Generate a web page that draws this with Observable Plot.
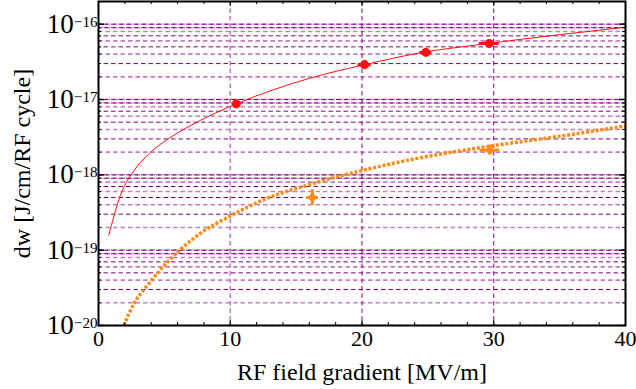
<!DOCTYPE html>
<html><head><meta charset="utf-8">
<script src="https://cdn.jsdelivr.net/npm/d3@7"></script>
<script src="https://cdn.jsdelivr.net/npm/@observablehq/plot@0.6"></script>
<style>
body{margin:0;background:#fff;}
svg{display:block;}
svg, svg text, svg tspan{font-family:"Liberation Serif","Times New Roman",serif !important;}
[aria-label="x-axis label"], [aria-label="y-axis label"]{font-size:24px;}
</style>
</head><body><div id="chart"></div>
<script>
// ---- data ----
// red series (measured points + fitted curve)
const redX     = [10.46, 20.2, 24.85, 29.66];
const redY     = [8.75e-18, 2.9e-17, 4.22e-17, 5.55e-17];
const redXErr  = [0.3, 0.5, 0.45, 0.75];
const redYLo   = [7.7e-18, 2.53e-17, 3.72e-17, 5.1e-17];
const redYHi   = [9.9e-18, 3.32e-17, 4.79e-17, 6.05e-17];
const redCurveX = [0.78, 1.67, 2.68, 3.70, 5.22, 6.36, 7.75, 10.46, 16.1, 20.2, 24.3, 29.6, 40];
const redCurveY = [1.58e-19, 5.4e-19, 1.13e-18, 1.81e-18, 2.95e-18, 3.92e-18, 5.3e-18, 8.75e-18, 1.93e-17, 2.9e-17, 4.13e-17, 5.55e-17, 9.1e-17];
// orange series
const orangeX    = [16.23, 29.7];
const orangeY    = [5.0e-19, 2.13e-18];
const orangeXErr = [0.43, 0.75];
const orangeYLo  = [3.92e-19, 1.83e-18];
const orangeYHi  = [6.38e-19, 2.48e-18];
const orangeCurveX = [1.92, 2.68, 3.70, 4.96, 7.75, 10.03, 12.81, 16.1, 19.9, 24.46, 29.78, 35.1, 40];
const orangeCurveY = [1e-20, 1.94e-20, 3.39e-20, 6.17e-20, 1.68e-19, 2.86e-19, 4.9e-19, 7.5e-19, 1.13e-18, 1.69e-18, 2.41e-18, 3.27e-18, 4.45e-18];
// axes
const xDomain = [0, 40];
const yDomain = [1e-20, 2e-16];
const xTickLabels = [0, 10, 20, 30, 40];
const xMinorTicks = [0,2,4,6,8,10,12,14,16,18,20,22,24,26,28,30,32,34,36,38,40];
const yDecades = [1e-20, 1e-19, 1e-18, 1e-17, 1e-16];
const yMultipliers = [1,2,3,4,5,6,7,8,9];
const yGridDecades = [1e-20, 1e-19, 1e-18, 1e-17];
const lightMultipliers = [1,2,4,6,8,9];
const darkMultipliers = [1,3,5,7,9];
const xGridLight = [10];
const xGridDark = [20, 30];
const xLabel = "RF field gradient [MV/m]";
const yLabel = "dw [J/cm/RF cycle]";

// ---- derived tables ----
const redPts = redX.map((x,i)=>({x, y:redY[i], x1:x-redXErr[i], x2:x+redXErr[i], y1:redYLo[i], y2:redYHi[i]}));
const orangePts = orangeX.map((x,i)=>({x, y:orangeY[i], x1:x-orangeXErr[i], x2:x+orangeXErr[i], y1:orangeYLo[i], y2:orangeYHi[i]}));
const redCurve = redCurveX.map((x,i)=>({x, y:redCurveY[i]}));
const orangeCurve = orangeCurveX.map((x,i)=>({x, y:orangeCurveY[i]}));
const gridLight = yGridDecades.flatMap(d=>lightMultipliers.map(m=>m*d)).concat([1e-16]);
const gridDark = yGridDecades.flatMap(d=>darkMultipliers.map(m=>m*d)).concat([1e-16]);
const yMinor = yGridDecades.flatMap(d=>yMultipliers.map(m=>m*d)).concat([1e-16, 2e-16]);

const W = 636, H = 389, mL = 98, mR = 11, mT = 1, mB = 64;
const pW = W - mL - mR, pH = H - mT - mB;
const font = "Liberation Serif, Times New Roman, serif";
const red = "#ff1010", orange = "#ff8a14";
const light = "#c47fc4", dark = "#80007f";

const chart = Plot.plot({
  width: W, height: H,
  marginLeft: mL, marginRight: mR, marginTop: mT, marginBottom: mB,
  style: {fontFamily: font, color: "#000", background: "#fff"},
  x: {domain: xDomain},
  y: {type: "log", domain: yDomain},
  marks: [
    Plot.ruleY(gridLight, {y: d=>d, stroke: light, strokeWidth: 1.6, strokeDasharray: "4.5,3"}),
    Plot.ruleY(gridDark, {y: d=>d, stroke: dark, strokeWidth: 1, strokeDasharray: "4.5,3", strokeDashoffset: 2}),
    Plot.ruleX(xGridLight, {x: d=>d, stroke: light, strokeWidth: 1.6, strokeDasharray: "4.5,3"}),
    Plot.ruleX(xGridDark, {x: d=>d, stroke: dark, strokeWidth: 1, strokeDasharray: "4.5,3"}),
    Plot.line(redCurve, {x: "x", y: "y", stroke: red, strokeWidth: 1, curve: "monotone-x"}),
    Plot.line(orangeCurve, {x: "x", y: "y", stroke: orange, strokeWidth: 3.5, strokeDasharray: "3,1.8", strokeLinecap: "butt", strokeLinejoin: "miter", curve: "monotone-x"}),
    Plot.ruleY(redPts, {y: "y", x1: "x1", x2: "x2", stroke: red, strokeWidth: 3}),
    Plot.ruleX(redPts, {x: "x", y1: "y1", y2: "y2", stroke: red, strokeWidth: 3}),
    Plot.dot(redPts, {x: "x", y: "y", r: 4.5, fill: red}),
    Plot.ruleY(orangePts, {y: "y", x1: "x1", x2: "x2", stroke: orange, strokeWidth: 3}),
    Plot.ruleX(orangePts, {x: "x", y1: "y1", y2: "y2", stroke: orange, strokeWidth: 3}),
    Plot.dot(orangePts, {x: "x", y: "y", r: 3.5, fill: orange}),
    // inward ticks
    Plot.tickX(xMinorTicks, {x: d=>d, insetTop: pH - 3, stroke: "#000"}),
    Plot.tickX(xMinorTicks, {x: d=>d, insetBottom: pH - 3, stroke: "#000"}),
    Plot.tickX(xTickLabels, {x: d=>d, insetTop: pH - 5, stroke: "#000"}),
    Plot.tickX(xTickLabels, {x: d=>d, insetBottom: pH - 5, stroke: "#000"}),
    Plot.tickY(yMinor, {y: d=>d, insetRight: pW - 3, stroke: "#000"}),
    Plot.tickY(yMinor, {y: d=>d, insetLeft: pW - 3, stroke: "#000"}),
    Plot.tickY(yDecades, {y: d=>d, insetRight: pW - 6, stroke: "#000", strokeWidth: 1.5}),
    Plot.tickY(yDecades, {y: d=>d, insetLeft: pW - 6, stroke: "#000", strokeWidth: 1.5}),
    Plot.frame({stroke: "#000", strokeWidth: 2}),
    Plot.axisX({ticks: xTickLabels, tickSize: 0, tickPadding: 5, fontSize: 22, tickFormat: d=>String(d),
      label: xLabel, labelAnchor: "center", labelOffset: 54, labelArrow: "none"}),
    Plot.axisY({ticks: yDecades, tickSize: 0, tickPadding: 1, fontSize: 27, tickFormat: d=>String(Math.round(Math.log10(d))),
      label: yLabel, labelAnchor: "center", labelOffset: 86, labelArrow: "none"})
  ]
});

// superscript exponents on the y tick labels
d3.select(chart).selectAll('[aria-label="y-axis tick label"] text').each(function(){
  const exp = +this.textContent;
  const t = d3.select(this);
  t.text("10");
  t.append("tspan").attr("dy", "-0.4em").attr("font-size", "0.56em").text("\u2212" + Math.abs(exp));
});

document.getElementById("chart").appendChild(chart);
</script>
</body></html>
